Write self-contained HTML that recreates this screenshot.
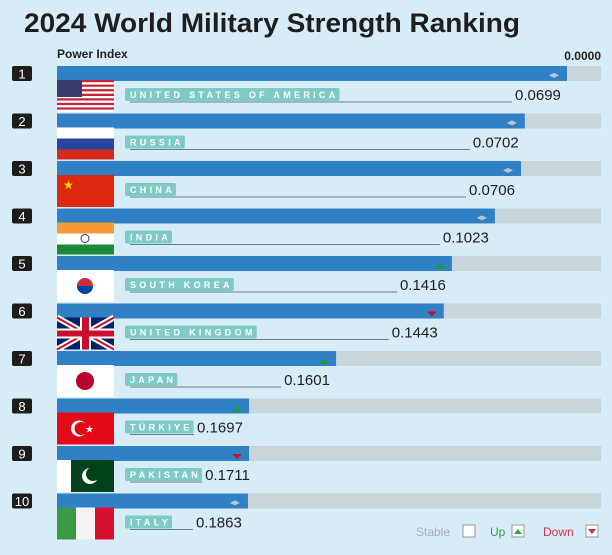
<!DOCTYPE html>
<html><head><meta charset="utf-8"><style>
body{margin:0;background:#d8ecf7;font-family:"Liberation Sans",sans-serif;}
#c{position:relative;width:612px;height:555px;overflow:hidden;background:#d8ecf7;}
</style></head><body>
<div id="c">
<svg id="s" width="612" height="555">
<text x="24" y="32" font-size="27" font-weight="bold" fill="#1e1e1e" textLength="496" lengthAdjust="spacingAndGlyphs">2024 World Military Strength Ranking</text>
<text x="57" y="58" font-size="12" font-weight="bold" fill="#222">Power Index</text>
<text x="601" y="60" font-size="12" font-weight="bold" fill="#222" text-anchor="end">0.0000</text>
<g id="rows"></g>
<g>
<text x="416" y="536" font-size="12" fill="#aab">Stable</text>
<rect x="463" y="525" width="12" height="12" fill="#fff" stroke="#999"/>
<text x="490" y="536" font-size="12" fill="#2aa84a">Up</text>
<rect x="512" y="525" width="12" height="12" fill="#fff" stroke="#999"/>
<path d="M514 534 L518 529 L522 534Z" fill="#2aa84a"/>
<text x="543" y="536" font-size="12" fill="#d0344a">Down</text>
<rect x="586" y="525" width="12" height="12" fill="#fff" stroke="#999"/>
<path d="M588 529 L592 534 L596 529Z" fill="#d0344a"/>
</g>
</svg>
</div>
<script>
const countries=["UNITED STATES OF AMERICA","RUSSIA","CHINA","INDIA","SOUTH KOREA","UNITED KINGDOM","JAPAN","TÜRKIYE","PAKISTAN","ITALY"];
const powerIndex=[0.0699,0.0702,0.0706,0.1023,0.1416,0.1443,0.1601,0.1697,0.1711,0.1863];
const barProgress=[0.9375,0.860,0.853,0.805,0.726,0.711,0.513,0.353,0.353,0.351];
const trends=["stable","stable","stable","stable","up","down","up","up","down","stable"];
const NS="http://www.w3.org/2000/svg";
const g=document.getElementById('rows');
const x0=57,trackW=544,top0=66,pitch=47.5;
const xScale=v=>x0+v*trackW;
function el(t,a,p){const e=document.createElementNS(NS,t);for(const k in a)e.setAttribute(k,a[k]);(p||g).appendChild(e);return e;}
function flag(i,fx,fy,gp){
 const W=57,H=32;
 const r=(x,y,w,h,c)=>el('rect',{x:fx+x,y:fy+y,width:w,height:h,fill:c},gp);
 switch(i){
 case 0:for(let k=0;k<7;k++){r(0,k*H/7,W,H/14,'#c8213a');r(0,k*H/7+H/14,W,H/14,'#fff');}r(0,0,25,17,'#3b3b6d');break;
 case 1:r(0,0,W,11,'#fff');r(0,11,W,11,'#2846a0');r(0,22,W,10,'#d52b1e');break;
 case 2:r(0,0,W,H,'#de2910');el('text',{x:fx+6,y:fy+14,'font-size':12,fill:'#ffde00'},gp).textContent='★';break;
 case 3:r(0,0,W,11,'#f39a34');r(0,11,W,11,'#fff');r(0,22,W,10,'#1b8a3a');el('circle',{cx:fx+28,cy:fy+16,r:4,fill:'none',stroke:'#223a8a'},gp);break;
 case 4:r(0,0,W,H,'#fff');el('circle',{cx:fx+28,cy:fy+16,r:8,fill:'#cd2e3a'},gp);el('path',{d:`M${fx+20} ${fy+16} A8 8 0 0 0 ${fx+36} ${fy+16}Z`,fill:'#0047a0'},gp);break;
 case 5:r(0,0,W,H,'#012169');el('path',{d:`M${fx} ${fy}L${fx+W} ${fy+H}M${fx+W} ${fy}L${fx} ${fy+H}`,stroke:'#fff','stroke-width':6},gp);el('path',{d:`M${fx} ${fy}L${fx+W} ${fy+H}M${fx+W} ${fy}L${fx} ${fy+H}`,stroke:'#c8102e','stroke-width':2},gp);r(23,0,11,H,'#fff');r(0,11,W,10,'#fff');r(25,0,7,H,'#c8102e');r(0,13,W,6,'#c8102e');break;
 case 6:r(0,0,W,H,'#fff');el('circle',{cx:fx+28,cy:fy+16,r:9,fill:'#bc002d'},gp);break;
 case 7:r(0,0,W,H,'#e30a17');el('circle',{cx:fx+22,cy:fy+16,r:8,fill:'#fff'},gp);el('circle',{cx:fx+24,cy:fy+16,r:6.5,fill:'#e30a17'},gp);el('text',{x:fx+28,y:fy+20,'font-size':10,fill:'#fff'},gp).textContent='★';break;
 case 8:r(0,0,14,H,'#fff');r(14,0,43,H,'#01411c');el('circle',{cx:fx+33,cy:fy+16,r:8,fill:'#fff'},gp);el('circle',{cx:fx+36,cy:fy+14,r:7,fill:'#01411c'},gp);break;
 case 9:r(0,0,19,H,'#3a9a48');r(19,0,19,H,'#f4f4f4');r(38,0,19,H,'#d8102e');break;
 }
}
countries.forEach((name,i)=>{
 const y=top0+i*pitch;
 const row=el('g',{});
 
 
 const rb=el('rect',{x:12,y:y,width:20,height:15,rx:2,fill:'#1c1c1c'},row);
 
 
 const rt=el('text',{x:22,y:y+12.5,'font-size':13,fill:'#fff','text-anchor':'middle'},row);
 
 
 rt.textContent=i+1;
 const tr=el('rect',{x:x0,y:y,width:trackW,height:15,fill:'#c8d6dc'},row);
 
 
 const xe=xScale(barProgress[i]);
 const b=el('rect',{x:x0,y:y,width:xe-x0,height:15,fill:'#2f80c4'},row);
 
 
 const ic=trends[i];
 let ip;
 if(ic==='stable')ip=el('text',{x:xe-13,y:y+12,'font-size':10,fill:'#b9c6d0','text-anchor':'middle'},row),ip.textContent='◂▸';
 else if(ic==='up')ip=el('path',{d:`M${xe-17} ${y+13}L${xe-12} ${y+7}L${xe-7} ${y+13}Z`,fill:'#1e9a3c'},row);
 else ip=el('path',{d:`M${xe-17} ${y+8}L${xe-12} ${y+13}L${xe-7} ${y+8}Z`,fill:'#c8102e'},row);
 
 
 const fg=el('g',{},row);
 
 
 flag(i,57,y+14,fg);
 const lb=el('rect',{x:125,y:y+22,width:10,height:13,rx:2,fill:'#7ecbc5'},row);
 
 
 const lt=el('text',{x:130,y:y+32,'font-size':9,'font-weight':'bold',fill:'#fff','letter-spacing':'3.3'},row);
 
 
 lt.textContent=name;
 const lwid=lt.getComputedTextLength()+6;
 lb.setAttribute('width',lwid);
 const vx=Math.max(xe-52,125+lwid+3);
 const ul=el('line',{x1:130,y1:y+36,x2:vx-3,y2:y+36,stroke:'#6a7f8c','stroke-width':1},row);
 
 
 const vt=el('text',{x:vx,y:y+34,'font-size':15,fill:'#1e1e1e'},row);
 
 
 vt.textContent=powerIndex[i].toFixed(4);
});
</script>
</body></html>
